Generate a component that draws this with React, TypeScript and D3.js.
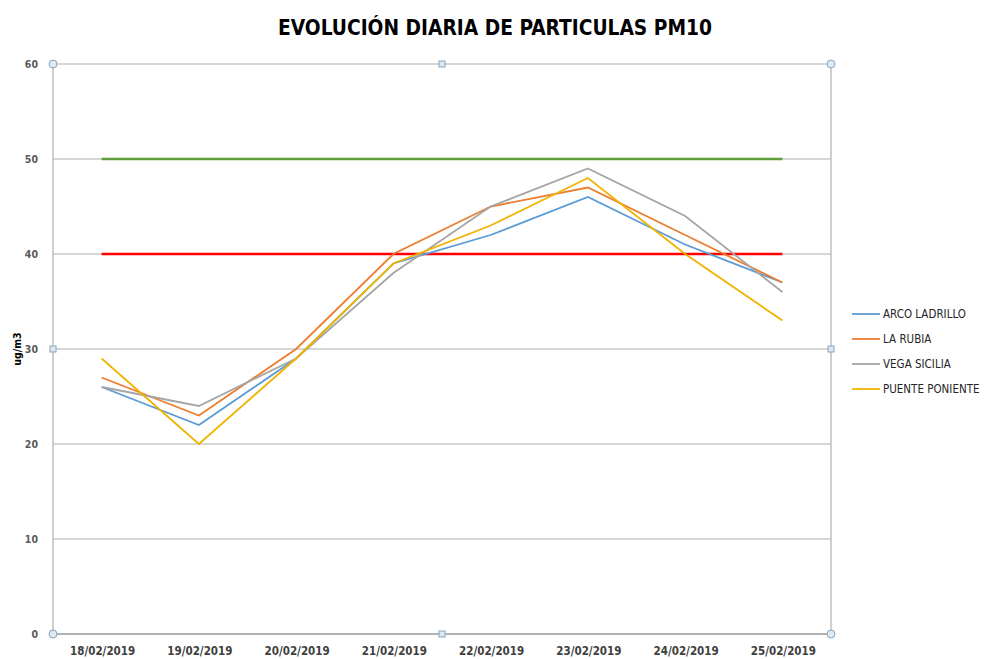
import React from "react";
import * as d3 from "d3";

// fechas del eje x
const dates = [
  "18/02/2019",
  "19/02/2019",
  "20/02/2019",
  "21/02/2019",
  "22/02/2019",
  "23/02/2019",
  "24/02/2019",
  "25/02/2019",
];

// valores por estacion (ug/m3)
const arcoLadrillo = [26, 22, 29, 39, 42, 46, 41, 37];
const laRubia = [27, 23, 30, 40, 45, 47, 42, 37];
const vegaSicilia = [26, 24, 29, 38, 45, 49, 44, 36];
const puentePoniente = [29, 20, 29, 39, 43, 48, 40, 33];

// limites
const limiteDiario = [50, 50, 50, 50, 50, 50, 50, 50];
const limiteAnual = [40, 40, 40, 40, 40, 40, 40, 40];

const yTicks = [0, 10, 20, 30, 40, 50, 60];

const series = [
  { name: "ARCO LADRILLO", values: arcoLadrillo, color: "#5b9bd5" },
  { name: "LA RUBIA", values: laRubia, color: "#ed7d31" },
  { name: "VEGA SICILIA", values: vegaSicilia, color: "#a5a5a5" },
  { name: "PUENTE PONIENTE", values: puentePoniente, color: "#f0b400" },
];

const W = 987;
const H = 659;
const left = 53;
const right = 831;
const top = 64;
const bottom = 634;

const App = () => {
  const x = d3.scalePoint<string>().domain(dates).range([left, right]).padding(0.5);
  const y = d3.scaleLinear().domain([0, 60]).range([bottom, top]);

  const line = d3
    .line<number>()
    .x((_, i) => x(dates[i]) as number)
    .y((d) => y(d));

  const font = "'DejaVu Sans Condensed', 'DejaVu Sans', sans-serif";
  const handleFill = "#dbe9f4";
  const handleStroke = "#8aa4bb";

  return (
    <svg width={W} height={H} style={{ position: "absolute", left: 0, top: 0, background: "#fff" }}>
      <text
        x={495}
        y={35}
        textAnchor="middle"
        fontFamily={font}
        fontWeight="bold"
        fontSize={21}
        fill="#000"
        textLength={434}
        lengthAdjust="spacingAndGlyphs"
      >
        EVOLUCIÓN DIARIA DE PARTICULAS PM10
      </text>

      {/* rejilla */}
      {yTicks.map((t) => (
        <line key={t} x1={left} x2={right} y1={y(t)} y2={y(t)} stroke="#c8c8c8" strokeWidth={1.5} />
      ))}
      <line x1={left} x2={left} y1={top} y2={bottom} stroke="#bfbfbf" strokeWidth={1.5} />
      <line x1={right} x2={right} y1={top} y2={bottom} stroke="#bfbfbf" strokeWidth={1.5} />
      <line x1={left} x2={right} y1={bottom} y2={bottom} stroke="#a6a6a6" strokeWidth={1.5} />

      {/* etiquetas eje y */}
      {yTicks.map((t) => (
        <text
          key={t}
          x={38}
          y={y(t) + 4}
          textAnchor="end"
          fontFamily={font}
          fontWeight="bold"
          fontSize={10.5}
          fill="#595959"
        >
          {t}
        </text>
      ))}
      <text
        transform={`translate(21, ${y(30)}) rotate(-90)`}
        textAnchor="middle"
        fontFamily={font}
        fontWeight="bold"
        fontSize={10.5}
        fill="#000"
      >
        ug/m3
      </text>

      {/* etiquetas eje x */}
      {dates.map((d) => (
        <text
          key={d}
          x={(x(d) as number) + 1}
          y={655}
          textAnchor="middle"
          fontFamily={font}
          fontWeight="bold"
          fontSize={11.5}
          fill="#404040"
        >
          {d}
        </text>
      ))}

      {/* limites */}
      <path d={line(limiteDiario) || ""} fill="none" stroke="#5e9e3c" strokeWidth={2.5} />
      <path d={line(limiteAnual) || ""} fill="none" stroke="#ff0000" strokeWidth={2.5} />

      {/* series */}
      {series.map((s) => (
        <path key={s.name} d={line(s.values) || ""} fill="none" stroke={s.color} strokeWidth={1.8} />
      ))}

      {/* leyenda */}
      {series.map((s, i) => (
        <g key={s.name} transform={`translate(852, ${314 + i * 25})`}>
          <line x1={0} x2={28} y1={0} y2={0} stroke={s.color} strokeWidth={1.8} />
          <text x={31} y={4} fontFamily={font} fontSize={11.5} fill="#262626">
            {s.name}
          </text>
        </g>
      ))}

      {/* marcos de seleccion */}
      {[
        [left, top],
        [right, top],
        [left, bottom],
        [right, bottom],
      ].map(([cx, cy], i) => (
        <circle key={i} cx={cx} cy={cy} r={4} fill={handleFill} stroke={handleStroke} strokeWidth={1} />
      ))}
      {[
        [(left + right) / 2, top],
        [(left + right) / 2, bottom],
        [left, (top + bottom) / 2],
        [right, (top + bottom) / 2],
      ].map(([cx, cy], i) => (
        <rect key={i} x={cx - 3} y={cy - 3} width={6} height={6} fill={handleFill} stroke={handleStroke} strokeWidth={1} />
      ))}
    </svg>
  );
};

export default App;
